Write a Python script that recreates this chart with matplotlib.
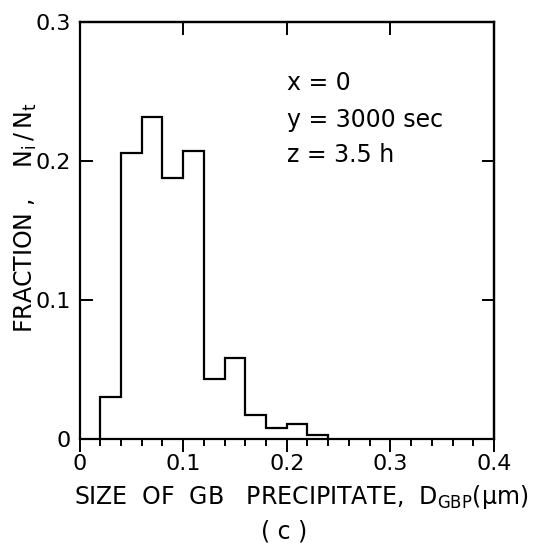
import numpy as np
import matplotlib
matplotlib.use('Agg')
import matplotlib.pyplot as plt
from matplotlib.ticker import MultipleLocator, FixedFormatter, FixedLocator

# Distribucion de tamanos de precipitados en borde de grano
bin_edges = [0.02, 0.04, 0.06, 0.08, 0.10, 0.12, 0.14, 0.16, 0.18, 0.20, 0.22, 0.24]
fraction = [0.030, 0.206, 0.232, 0.188, 0.207, 0.043, 0.058, 0.017, 0.008, 0.011, 0.003]

x_ticks = [0, 0.1, 0.2, 0.3, 0.4]
x_labels = ['0', '0.1', '0.2', '0.3', '0.4']
y_ticks = [0, 0.1, 0.2, 0.3]
y_labels = ['0', '0.1', '0.2', '0.3']

conditions = ['x = 0', 'y = 3000 sec', 'z = 3.5 h']

plt.rcParams['font.family'] = 'DejaVu Sans'
plt.rcParams['mathtext.fontset'] = 'dejavusans'

W, H = 546, 552
fig = plt.figure(figsize=(W / 100, H / 100), dpi=100)
ax = fig.add_axes([79.5 / W, 1 - 439 / H, (494 - 79.5) / W, (439 - 22) / H])

ax.stairs(fraction, bin_edges, baseline=0, color='black', linewidth=1.6)

ax.set_xlim(0, 0.4)
ax.set_ylim(0, 0.3)

for s in ax.spines.values():
    s.set_linewidth(1.6)

ax.xaxis.set_major_locator(FixedLocator(x_ticks))
ax.xaxis.set_major_formatter(FixedFormatter(x_labels))
ax.xaxis.set_minor_locator(MultipleLocator(0.02))
ax.yaxis.set_major_locator(FixedLocator(y_ticks))
ax.yaxis.set_major_formatter(FixedFormatter(y_labels))

ax.tick_params(axis='x', which='major', direction='out', length=9, width=1.4,
               labelsize=16, pad=2)
ax.tick_params(axis='x', which='minor', direction='out', length=5, width=1.4)
ax.tick_params(axis='y', which='major', direction='in', length=9, width=1.4,
               labelsize=16, pad=6)

# marcas interiores arriba y a la derecha
top = ax.secondary_xaxis('top')
top.xaxis.set_major_locator(FixedLocator(x_ticks))
top.tick_params(direction='in', length=9, width=1.4, labeltop=False)
top.spines['top'].set_linewidth(1.6)
right = ax.secondary_yaxis('right')
right.yaxis.set_major_locator(FixedLocator(y_ticks))
right.tick_params(direction='in', length=9, width=1.4, labelright=False)
right.spines['right'].set_linewidth(1.6)

for line, ypix in zip(conditions, [83, 120, 155]):
    fig.text(287 / W, 1 - ypix / H, line, fontsize=17, va='center', ha='left')

fig.text(26 / W, 1 - 218 / H, r'FRACTION ,    $\mathregular{N_i\,/\,N_t}$',
         rotation=90, fontsize=17, va='center', ha='center')
fig.text(301 / W, 1 - 497 / H,
         r'SIZE  OF  GB   PRECIPITATE,  $\mathregular{D_{GBP}}$($\mathregular{\mu}$m)',
         fontsize=17, va='center', ha='center')
fig.text(284 / W, 1 - 531 / H, '( c )', fontsize=17, va='center', ha='center')

fig.savefig('out.png', dpi=100)
